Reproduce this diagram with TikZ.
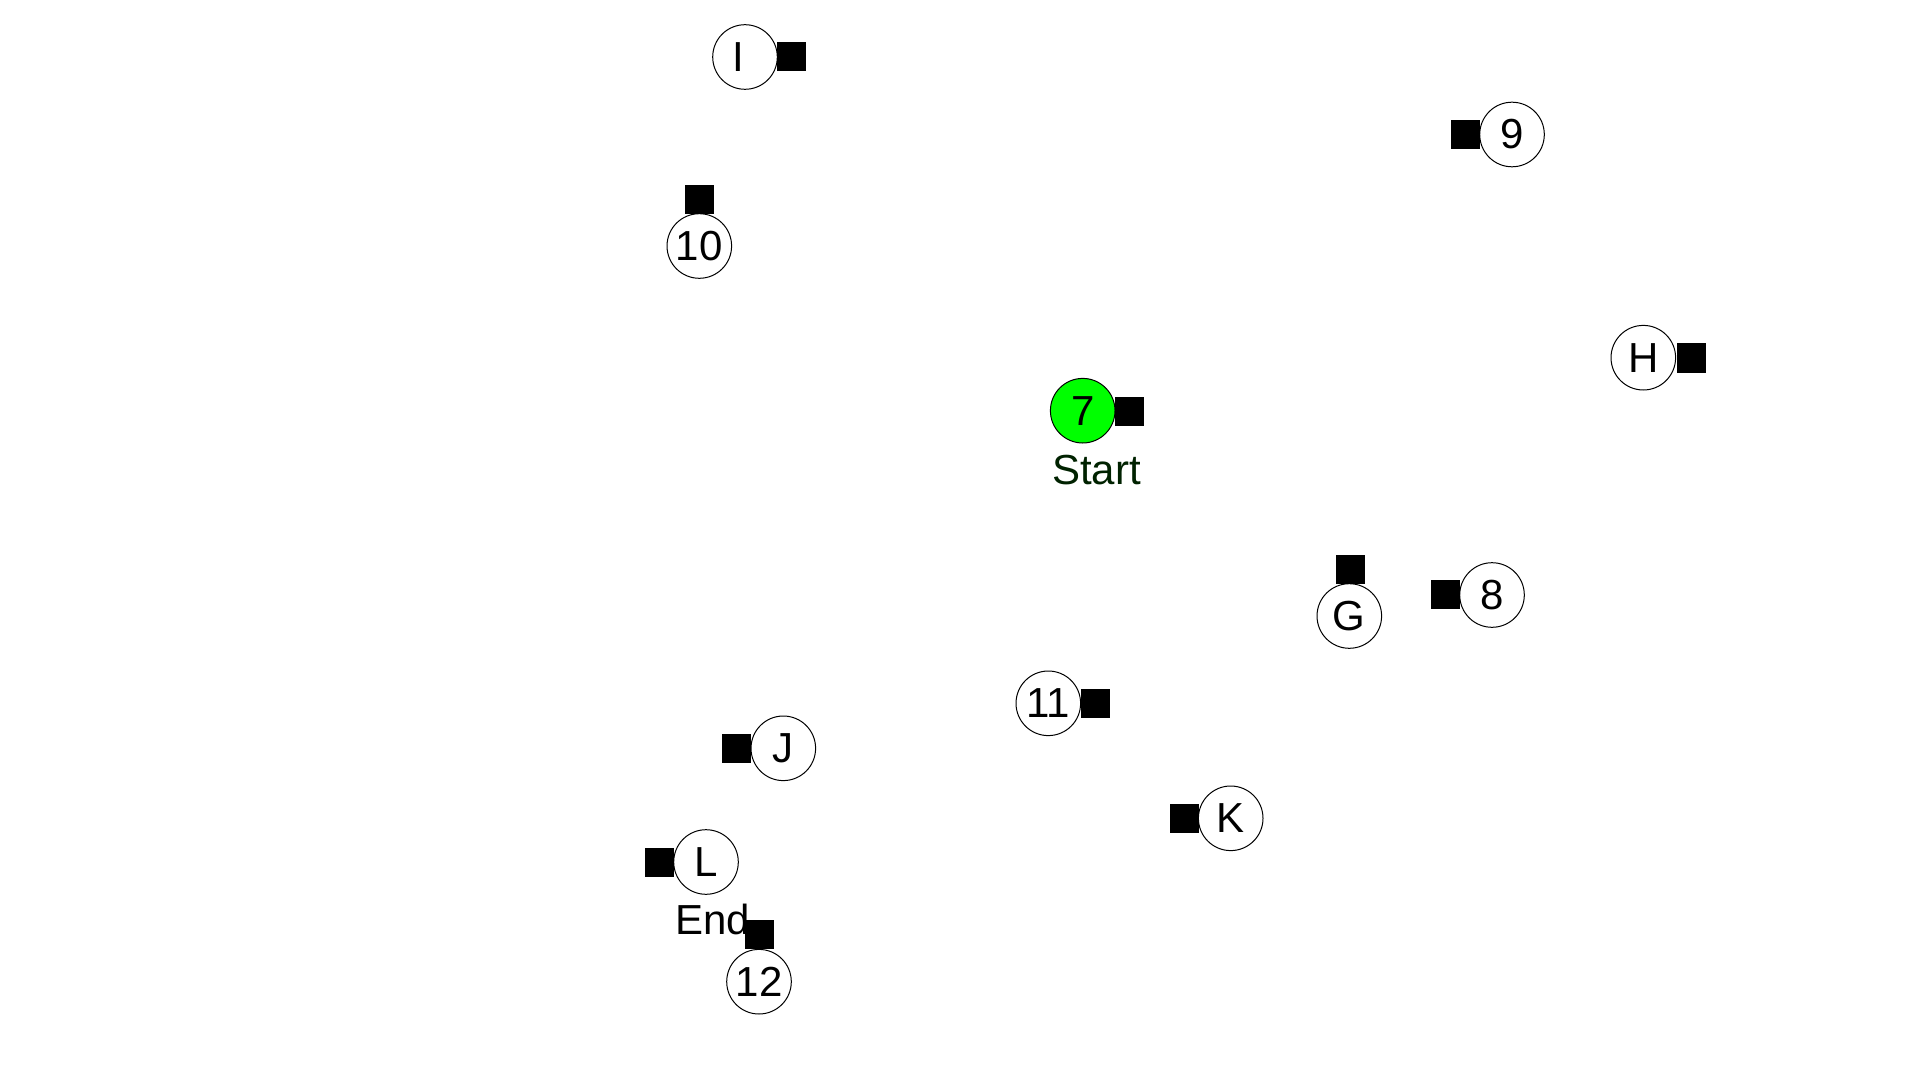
\documentclass[tikz,border=0pt]{standalone}
\usepackage{fontspec}
\setmainfont{Liberation Sans}
\definecolor{startgreen}{RGB}{0,255,0}
\definecolor{starttext}{RGB}{0,34,0}
\begin{document}
\begin{tikzpicture}[x=0.5pt,y=-0.5pt,
  circ/.style={circle,draw=black,line width=0.5pt,fill=white,minimum size=32.3pt,inner sep=0pt,font=\fontsize{21}{21}\selectfont},
  sq/.style={rectangle,fill=black,minimum size=14.5pt,inner sep=0pt},
  lbl/.style={anchor=base,inner sep=0pt,font=\fontsize{21}{21}\selectfont}]
\useasboundingbox[fill=white] (0,0) rectangle (1920,1080);
% circles
\node[circ] (nI) at (745,57) {\kern-3.5pt I\kern3.5pt};
\node[circ] (n9) at (1512,134.5) {9};
\node[circ] (n10) at (699.3,246) {10};
\node[circ] (nH) at (1643.3,357.7) {H};
\node[circ,fill=startgreen] (n7) at (1082.7,410.7) {7};
\node[circ] (nG) at (1349.3,616) {G};
\node[circ] (n8) at (1492,595) {8};
\node[circ] (n11) at (1048.3,703.3) {11};
\node[circ] (nJ) at (783.3,748.3) {J};
\node[circ] (nK) at (1230.7,818.3) {K};
\node[circ] (nL) at (706,862) {L};
\node[circ] (n12) at (759,981.7) {12};
% labels
\node[lbl,text=starttext] (tStart) at (1096.4,484) {Start};
\node[lbl] (tEnd) at (712.5,934.3) {End};
% squares
\node[sq] (sI) at (791.5,57) {};
\node[sq] (s9) at (1465.5,135) {};
\node[sq] (s10) at (699.5,199.5) {};
\node[sq] (sH) at (1691,358) {};
\node[sq] (s7) at (1129.5,411.5) {};
\node[sq] (sG) at (1350,569.5) {};
\node[sq] (s8) at (1445.5,594.5) {};
\node[sq] (s11) at (1095.5,703.5) {};
\node[sq] (sJ) at (736.7,748.8) {};
\node[sq] (sK) at (1184.5,818.7) {};
\node[sq] (sL) at (659.5,862) {};
\node[sq] (s12) at (759.5,934.7) {};
\end{tikzpicture}
\end{document}
